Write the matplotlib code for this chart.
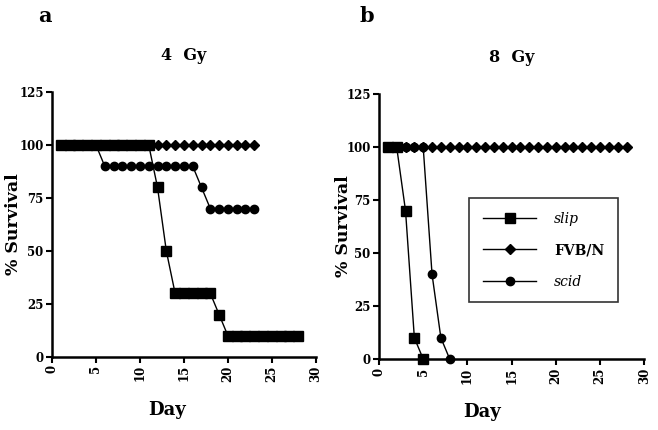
import matplotlib
matplotlib.use("Agg")
import matplotlib.pyplot as plt

plt.rcParams['font.family'] = ['DejaVu Serif']
plt.rcParams['font.weight'] = 'bold'

# Panel a: 4 Gy
a_slip_days = [1, 2, 3, 4, 5, 6, 7, 8, 9, 10, 11, 12, 13, 14, 15, 16, 17, 18, 19, 20, 21, 22, 23, 24, 25, 26, 27, 28]
a_slip_surv = [100, 100, 100, 100, 100, 100, 100, 100, 100, 100, 100, 80, 50, 30, 30, 30, 30, 30, 20, 10, 10, 10, 10, 10, 10, 10, 10, 10]
a_fvb_days = list(range(1, 24))
a_fvb_surv = [100] * 23
a_scid_days = list(range(1, 24))
a_scid_surv = [100, 100, 100, 100, 100, 90, 90, 90, 90, 90, 90, 90, 90, 90, 90, 90, 80, 70, 70, 70, 70, 70, 70]

# Panel b: 8 Gy
b_slip_days = [1, 2, 3, 4, 5]
b_slip_surv = [100, 100, 70, 10, 0]
b_fvb_days = list(range(1, 29))
b_fvb_surv = [100] * 28
b_scid_days = [1, 2, 3, 4, 5, 6, 7, 8]
b_scid_surv = [100, 100, 100, 100, 100, 40, 10, 0]

series_labels = ['slip', 'FVB/N', 'scid']
x_ticks = [0, 5, 10, 15, 20, 25, 30]
y_ticks = [0, 25, 50, 75, 100, 125]

fig = plt.figure(figsize=(6.58, 4.30), dpi=100)
axa = fig.add_axes([0.079, 0.170, 0.401, 0.616])
axb = fig.add_axes([0.576, 0.165, 0.403, 0.616])

def style(ax):
    ax.set_xlim(0, 30)
    ax.set_ylim(0, 125)
    ax.set_xticks(x_ticks)
    ax.set_yticks(y_ticks)
    ax.set_xticklabels([str(t) for t in x_ticks], rotation=90, fontsize=8.5, fontweight='bold')
    ax.set_yticklabels([str(t) for t in y_ticks], fontsize=8.5, fontweight='bold')
    for s in ['top', 'right']:
        ax.spines[s].set_visible(False)
    for s in ['left', 'bottom']:
        ax.spines[s].set_linewidth(1.8)
    ax.tick_params(direction='out', length=4, width=1.5, pad=2)
    ax.set_xlabel('Day', fontsize=13, fontweight='bold')
    ax.set_ylabel('% Survival', fontsize=12.5, fontweight='bold')

def plot_series(ax, sd, ss, fd, fs, cd, cs):
    l1, = ax.plot(fd, fs, '-', marker='D', color='black', ms=5.0, lw=1.0, clip_on=False, zorder=3)
    l2, = ax.plot(cd, cs, '-', marker='o', color='black', ms=6.0, lw=1.0, clip_on=False, zorder=3)
    l0, = ax.plot(sd, ss, '-', marker='s', color='black', ms=6.6, lw=1.0, clip_on=False, zorder=4)
    return l0, l1, l2

plot_series(axa, a_slip_days, a_slip_surv, a_fvb_days, a_fvb_surv, a_scid_days, a_scid_surv)
handles = plot_series(axb, b_slip_days, b_slip_surv, b_fvb_days, b_fvb_surv, b_scid_days, b_scid_surv)

style(axa)
style(axb)
axa.xaxis.set_label_coords(0.435, -0.165)
axb.xaxis.set_label_coords(0.39, -0.165)
axa.yaxis.set_label_coords(-0.114, 0.5)
axb.yaxis.set_label_coords(-0.10, 0.5)

axa.set_title('4  Gy', fontsize=11.5, fontweight='bold', pad=23)
axb.set_title('8  Gy', fontsize=11.5, fontweight='bold', pad=23)
fig.text(0.068, 0.962, 'a', fontsize=15, fontweight='bold', ha='center', va='center')
fig.text(0.558, 0.962, 'b', fontsize=15, fontweight='bold', ha='center', va='center')

leg = axb.legend(handles, series_labels, loc='center', bbox_to_anchor=(0.621, 0.411),
                 fontsize=10, handlelength=3.8, labelspacing=1.25, borderpad=1.0,
                 handletextpad=1.3, frameon=True, fancybox=False, borderaxespad=0)
leg.get_frame().set_edgecolor('black')
leg.get_frame().set_linewidth(1.2)
texts = leg.get_texts()
texts[0].set_style('italic'); texts[0].set_fontweight('normal')
texts[2].set_style('italic'); texts[2].set_fontweight('normal')

fig.savefig('out.png', dpi=100)
